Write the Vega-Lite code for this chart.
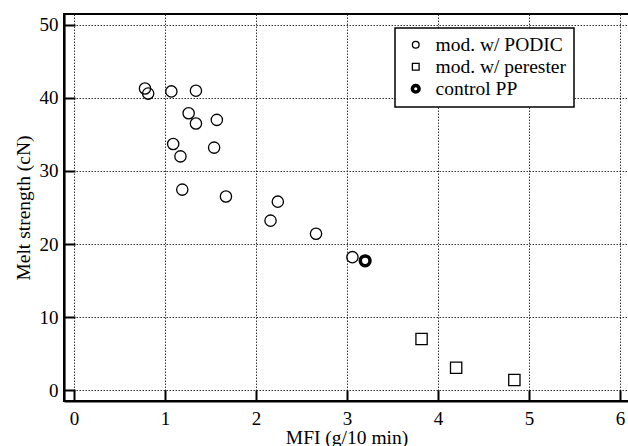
{
  "$schema": "https://vega.github.io/schema/vega-lite/v6.json",
  "width": 565,
  "height": 387,
  "autosize": "none",
  "padding": {"left": 64, "top": 14, "right": 0, "bottom": 45},
  "background": "white",
  "data": {
    "values": [
      {"series": "mod. w/ PODIC", "mfi": 0.78, "ms": 41.3},
      {"series": "mod. w/ PODIC", "mfi": 0.815, "ms": 40.6},
      {"series": "mod. w/ PODIC", "mfi": 1.07, "ms": 40.9},
      {"series": "mod. w/ PODIC", "mfi": 1.34, "ms": 41.0},
      {"series": "mod. w/ PODIC", "mfi": 1.26, "ms": 37.9},
      {"series": "mod. w/ PODIC", "mfi": 1.34, "ms": 36.5},
      {"series": "mod. w/ PODIC", "mfi": 1.57, "ms": 37.0},
      {"series": "mod. w/ PODIC", "mfi": 1.09, "ms": 33.7},
      {"series": "mod. w/ PODIC", "mfi": 1.54, "ms": 33.2},
      {"series": "mod. w/ PODIC", "mfi": 1.17, "ms": 32.0},
      {"series": "mod. w/ PODIC", "mfi": 1.19, "ms": 27.45},
      {"series": "mod. w/ PODIC", "mfi": 1.67, "ms": 26.5},
      {"series": "mod. w/ PODIC", "mfi": 2.24, "ms": 25.8},
      {"series": "mod. w/ PODIC", "mfi": 2.16, "ms": 23.2},
      {"series": "mod. w/ PODIC", "mfi": 2.66, "ms": 21.4},
      {"series": "mod. w/ PODIC", "mfi": 3.06, "ms": 18.2},
      {"series": "mod. w/ perester", "mfi": 3.82, "ms": 7.0},
      {"series": "mod. w/ perester", "mfi": 4.2, "ms": 3.05},
      {"series": "mod. w/ perester", "mfi": 4.84, "ms": 1.37},
      {"series": "control PP", "mfi": 3.2, "ms": 17.7}
    ]
  },
  "mark": {"type": "point", "filled": false, "stroke": "black", "opacity": 1},
  "encoding": {
    "x": {
      "field": "mfi", "type": "quantitative", "title": "MFI (g/10 min)",
      "scale": {"domain": [-0.11, 6.1], "nice": false, "zero": false},
      "axis": {"values": [0, 1, 2, 3, 4, 5, 6], "labelPadding": 19, "titlePadding": 0}
    },
    "y": {
      "field": "ms", "type": "quantitative", "title": "Melt strength (cN)",
      "scale": {"domain": [-1.5, 51.5], "nice": false, "zero": false},
      "axis": {"values": [0, 10, 20, 30, 40, 50], "labelPadding": 17, "titlePadding": 6}
    },
    "shape": {
      "field": "series", "type": "nominal",
      "scale": {"domain": ["mod. w/ PODIC", "mod. w/ perester", "control PP"], "range": ["circle", "square", "circle"]},
      "legend": {
        "title": null, "orient": "none", "legendX": 331, "legendY": 14,
        "strokeColor": "black", "fillColor": "white", "padding": 7,
        "symbolOffset": 4, "symbolSize": 45, "symbolStrokeColor": "black",
        "symbolFillColor": "transparent",
        "labelFontSize": 19.5, "labelFont": "Liberation Serif", "labelColor": "black",
        "labelOffset": 10, "rowPadding": 1
      }
    },
    "strokeWidth": {
      "field": "series", "type": "nominal",
      "scale": {"type": "ordinal", "domain": ["mod. w/ PODIC", "mod. w/ perester", "control PP"], "range": [1.3, 1.3, 3.5]}
    },
    "size": {
      "condition": {"test": "datum.series === 'control PP'", "value": 95},
      "value": 127
    },
    "order": {"field": "series", "sort": "descending"}
  },
  "config": {
    "font": "Liberation Serif",
    "view": {"stroke": "black", "strokeWidth": 2},
    "legend": {"strokeWidth": 1.5},
    "axis": {
      "domainColor": "black", "domainWidth": 2.2,
      "tickColor": "black", "tickWidth": 2, "tickSize": -11,
      "grid": true, "gridColor": "black", "gridDash": [1.5, 1.5], "gridWidth": 0.8,
      "labelFontSize": 19, "labelColor": "black", "labelFont": "Liberation Serif",
      "titleFontSize": 19.5, "titleFontWeight": "normal", "titleColor": "black", "titleFont": "Liberation Serif"
    }
  }
}
